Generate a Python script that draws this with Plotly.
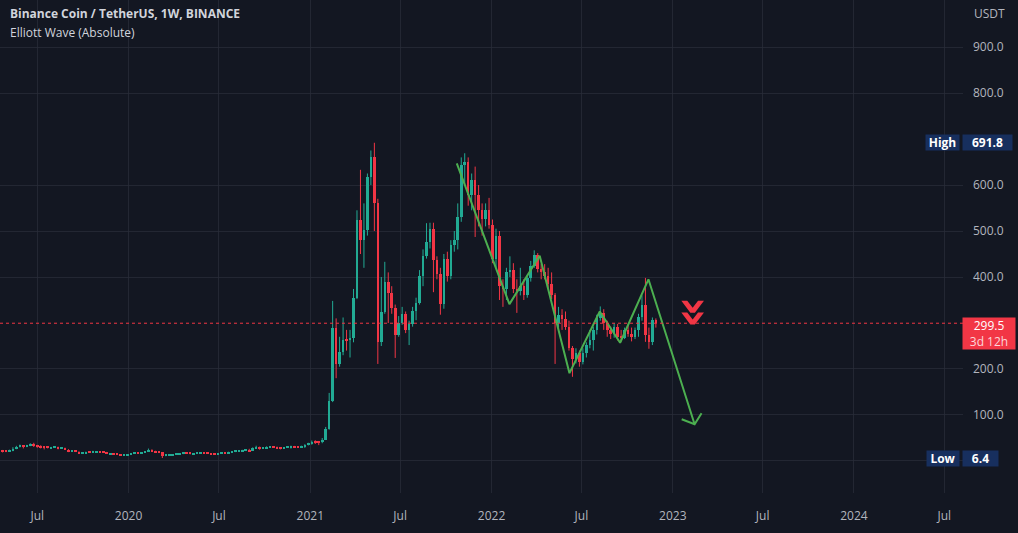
import pandas as pd
import plotly.graph_objects as go

# ---------------- data (BNB/USDT weekly) ----------------
first_open = 19.8
week_start = "2019-04-15"

close = [
    # 2019
    23.3, 21.2, 20.9, 22.9, 26.3, 30.4, 32.6, 31.4, 33.9, 37.0, 33.2, 31.6, 30.7,
    30.6, 28.6, 28.9, 29.8, 28.0, 28.3, 24.8, 21.4, 21.5, 20.4, 15.9, 17.4, 19.2,
    18.8, 20.1, 20.3, 20.1, 19.5, 15.6, 16.2, 15.5, 14.5, 13.6, 13.6, 14.6,
    # 2020
    16.4, 17.8, 17.6, 18.7, 21.0, 24.2, 20.9, 19.5, 18.5, 11.6, 12.7, 13.3, 13.9,
    15.5, 15.6, 17.1, 17.0, 15.9, 16.3, 16.5, 17.3, 17.1, 16.7, 15.7, 15.4, 17.0,
    17.8, 17.6, 19.3, 19.9, 22.0, 22.3, 23.1, 23.2, 22.3, 28.2, 29.6, 27.4, 28.6,
    29.8, 31.0, 30.5, 27.9, 27.6, 29.3, 30.6, 31.1, 31.0, 30.1, 32.0, 35.1, 38.3,
    # 2021
    42.0, 41.5, 40.5, 46.6, 69.6, 131, 290, 210, 237, 263, 262, 268, 354,
    524, 480, 502, 617, 661, 561, 259, 324, 389, 365, 333, 274, 300,
    320, 284, 298, 327, 344, 403, 445, 476, 505, 436, 407, 342, 440,
    402, 470, 480, 530, 643, 650, 578, 611, 578, 545, 527, 545, 512,
    # 2022
    440, 490, 380, 375, 410, 415, 375, 370, 380, 360, 398, 425, 448,
    418, 410, 402, 385, 360, 300, 318, 308, 292, 245, 222, 235, 215,
    235, 252, 262, 285, 310, 322, 300, 285, 275, 292, 270, 268, 285,
    275, 270, 285, 313, 339, 274, 259, 307, 299.5,
]
high = [
    # 2019
    24.5, 24.0, 22.0, 24.6, 29.9, 32.9, 35.6, 33.6, 35.0, 38.5, 39.6, 35.0, 34.2,
    32.4, 31.8, 30.6, 32.6, 31.2, 30.0, 29.0, 25.7, 23.0, 22.4, 20.9, 18.4, 20.3,
    20.1, 22.1, 21.6, 21.2, 20.6, 19.8, 16.7, 16.5, 15.7, 14.8, 14.2, 15.0,
    # 2020
    17.2, 18.4, 18.3, 19.5, 21.6, 27.0, 25.4, 22.3, 21.0, 19.5, 13.6, 14.1, 14.9,
    16.4, 16.5, 17.5, 18.0, 17.6, 17.2, 17.2, 17.7, 18.3, 17.6, 17.0, 16.1, 17.4,
    18.2, 18.3, 20.2, 21.5, 22.4, 23.3, 24.3, 24.0, 26.5, 29.7, 33.2, 31.3, 29.3,
    31.9, 31.8, 32.3, 31.3, 28.3, 30.2, 32.0, 33.3, 32.8, 31.5, 33.2, 36.5, 39.6,
    # 2021
    44.5, 45.0, 43.6, 50.0, 74.0, 148, 348, 310, 270, 312, 285, 285, 374,
    545, 633, 560, 625, 675, 691.8, 570, 400, 433, 410, 380, 340, 315,
    335, 325, 305, 335, 355, 415, 460, 517, 518, 518, 445, 420, 450,
    455, 480, 500, 560, 660, 669, 660, 625, 640, 600, 560, 560, 572,
    # 2022
    525, 505, 500, 395, 420, 445, 430, 395, 420, 395, 405, 435, 458,
    452, 428, 428, 420, 410, 365, 335, 330, 325, 305, 250, 245, 240,
    245, 258, 285, 292, 318, 336, 330, 305, 292, 300, 298, 285, 290,
    296, 290, 290, 320, 360, 398, 290, 312, 310,
]
low = [
    # 2019
    19.3, 18.6, 19.3, 20.3, 21.3, 25.6, 29.4, 27.3, 30.1, 32.3, 30.5, 28.6, 27.3,
    25.2, 27.4, 26.6, 28.2, 25.3, 26.6, 24.2, 19.3, 20.2, 19.8, 15.2, 15.4, 17.1,
    18.2, 17.4, 19.4, 19.2, 18.7, 15.1, 14.5, 15.0, 14.0, 12.8, 13.1, 13.3,
    # 2020
    14.4, 16.2, 16.6, 17.1, 18.5, 20.7, 19.4, 18.3, 17.2, 6.4, 10.4, 11.6, 12.2,
    13.4, 14.5, 14.9, 16.3, 14.5, 15.0, 15.6, 15.8, 16.4, 16.2, 15.4, 15.0, 15.1,
    16.9, 17.3, 17.6, 19.0, 19.3, 21.4, 21.5, 21.6, 21.2, 21.8, 27.0, 24.5, 26.6,
    27.7, 29.3, 29.5, 26.0, 25.3, 26.9, 28.4, 27.0, 29.5, 28.5, 29.8, 28.5, 33.8,
    # 2021
    35.5, 37.0, 34.5, 38.6, 45.5, 68, 128, 180, 205, 230, 240, 225, 258,
    352, 450, 420, 490, 600, 500, 211, 250, 320, 300, 320, 224, 270,
    296, 278, 252, 292, 306, 340, 380, 440, 462, 367, 395, 318, 331,
    390, 395, 455, 460, 520, 600, 555, 545, 487, 510, 490, 510, 505,
    # 2022
    430, 420, 350, 335, 350, 400, 365, 322, 360, 350, 355, 390, 420,
    410, 395, 395, 375, 352, 211, 290, 285, 285, 240, 183, 212, 205,
    210, 225, 245, 240, 275, 305, 285, 270, 265, 268, 262, 260, 265,
    270, 260, 265, 270, 305, 259, 244, 252, 290,
]

# Elliott wave drawing (dates, prices)
wave_dates = ["2021-10-23", "2022-02-06", "2022-04-08", "2022-06-07",
              "2022-08-07", "2022-09-17", "2022-11-13", "2023-02-14"]
wave_prices = [647, 341, 446, 191, 325, 257, 395, 80]
arrow_dates = ["2023-01-19", "2023-02-14", "2023-02-28"]
arrow_prices = [90.6, 80, 103.7]

last_price = 299.5
high_price = 691.8
low_price = 6.4

tick_dates = ["2019-07-01", "2020-01-01", "2020-07-01", "2021-01-01", "2021-07-01",
              "2022-01-01", "2022-07-01", "2023-01-01", "2023-07-01", "2024-01-01",
              "2024-07-01"]
tick_text = ["Jul", "2020", "Jul", "2021", "Jul", "2022", "Jul", "2023", "Jul",
             "2024", "Jul"]
price_ticks = [0, 100, 200, 400, 500, 600, 800, 900]
price_text = ["" if v == 0 else f"{v:.1f}" for v in price_ticks]

# ---------------- styling ----------------
BG = "#131722"
GRID = "rgba(42,46,57,0.75)"
UP = "#22ab94"
DN = "#f23645"
WAVE = "#4caf50"
TXT = "#b2b5be"
NAVY = "#172f5e"
FONT = "Open Sans"
BODY_MS = 5.2 * 86400000      # candle body width (ms on the date axis)
MIN_BODY = 2.2                # minimum visible body height (price units)

assert len(close) == len(high) == len(low)
dates = pd.date_range(week_start, periods=len(close), freq="W-MON")
opens = [first_open] + close[:-1]

fig = go.Figure()
for is_up, col in [(True, UP), (False, DN)]:
    idx = [i for i in range(len(close)) if (close[i] >= opens[i]) == is_up]
    wx, wy = [], []
    for i in idx:
        wx += [dates[i], dates[i], None]
        wy += [low[i], high[i], None]
    fig.add_trace(go.Scatter(x=wx, y=wy, mode="lines", line=dict(color=col, width=1),
                             showlegend=False, hoverinfo="skip"))
    bases, heights = [], []
    for i in idx:
        lo_b, hi_b = sorted([opens[i], close[i]])
        h = max(hi_b - lo_b, MIN_BODY)
        mid = (lo_b + hi_b) / 2
        bases.append(mid - h / 2)
        heights.append(h)
    fig.add_trace(go.Bar(x=[dates[i] for i in idx], y=heights, base=bases,
                         width=BODY_MS, marker=dict(color=col, line=dict(width=0)),
                         showlegend=False, hoverinfo="skip"))

fig.add_trace(go.Scatter(x=wave_dates, y=wave_prices, mode="lines",
                         line=dict(color=WAVE, width=2), showlegend=False,
                         hoverinfo="skip"))
fig.add_trace(go.Scatter(x=arrow_dates, y=arrow_prices, mode="lines",
                         line=dict(color=WAVE, width=2), showlegend=False,
                         hoverinfo="skip"))

W, H = 1018, 533
ML, MR, MT, MB = 0, 55, 0, 40
PW, PH = W - ML - MR, H - MT - MB


def px(x):
    return (x - ML) / PW


def py(y):
    return 1 - (y - MT) / PH


ann = []
ann.append(dict(xref="paper", yref="paper", x=px(8), y=py(13), xanchor="left",
                yanchor="middle", showarrow=False,
                text="<b>Binance Coin / TetherUS, 1W, BINANCE</b>",
                font=dict(family=FONT, size=12, color="#d1d4dc")))
ann.append(dict(xref="paper", yref="paper", x=px(8), y=py(33), xanchor="left",
                yanchor="middle", showarrow=False, text="Elliott Wave (Absolute)",
                font=dict(family=FONT, size=12, color="#d1d4dc")))
ann.append(dict(xref="paper", yref="paper", x=px(972), y=py(13), xanchor="left",
                yanchor="middle", showarrow=False, text="USDT",
                font=dict(family=FONT, size=12, color=TXT)))
# High / Low tags
for lab, val, lw, vw in [("High", high_price, 33, 49), ("Low", low_price, 32, 35)]:
    ann.append(dict(xref="paper", yref="y", x=px(960), y=val, xanchor="right",
                    yanchor="middle", showarrow=False, text=f"<b>{lab}</b>",
                    width=lw, height=15, bgcolor=NAVY, borderpad=0,
                    font=dict(family=FONT, size=12, color="#ffffff")))
    ann.append(dict(xref="paper", yref="y", x=px(962), y=val, xanchor="left",
                    yanchor="middle", showarrow=False, text=f"<b>{val:.1f}</b>",
                    width=vw, height=15, bgcolor=NAVY, borderpad=0,
                    font=dict(family=FONT, size=12, color="#ffffff")))
# last price tag
ann.append(dict(xref="paper", yref="y", x=px(962), y=last_price, xanchor="left",
                yanchor="top", yshift=6, showarrow=False,
                text=f"{last_price:.1f}<br><span style='color:#fcd7da'>3d 12h</span>",
                width=52, height=31, bgcolor=DN, borderpad=0, align="center",
                font=dict(family=FONT, size=12, color="#ffffff")))
# sell chevrons
ann.append(dict(xref="paper", yref="paper", x=px(695), y=py(312), xanchor="center",
                yanchor="middle", showarrow=False, text="<b>»</b>", textangle=90,
                font=dict(family="DejaVu Sans", size=50, color=DN)))

fig.update_layout(
    width=W, height=H, autosize=False,
    paper_bgcolor=BG, plot_bgcolor=BG,
    margin=dict(l=ML, r=MR, t=MT, b=MB),
    showlegend=False, barmode="overlay", bargap=0,
    annotations=ann,
    shapes=[dict(type="line", xref="paper", x0=0, x1=1, yref="y", y0=last_price,
                 y1=last_price, line=dict(color=DN, width=1, dash="dot"),
                 layer="above")],
    xaxis=dict(type="date", range=["2019-04-17", "2024-08-07 14:00"],
               tickvals=tick_dates, ticktext=tick_text, showgrid=True,
               gridcolor=GRID, gridwidth=1, zeroline=False, showline=False,
               ticks="", fixedrange=True,
               tickfont=dict(family=FONT, size=12, color=TXT),
               ticklabelstandoff=14),
    yaxis=dict(side="right", range=[-69.6, 1002.2], tickvals=price_ticks,
               ticktext=price_text, showgrid=True, gridcolor=GRID, gridwidth=1,
               zeroline=False, showline=False, ticks="", fixedrange=True,
               tickfont=dict(family=FONT, size=12, color=TXT),
               ticklabelstandoff=9),
)

fig.write_html("out.html", config={"displayModeBar": False},
               post_script="document.body.style.margin='0';"
               "document.body.style.background='#131722';")
